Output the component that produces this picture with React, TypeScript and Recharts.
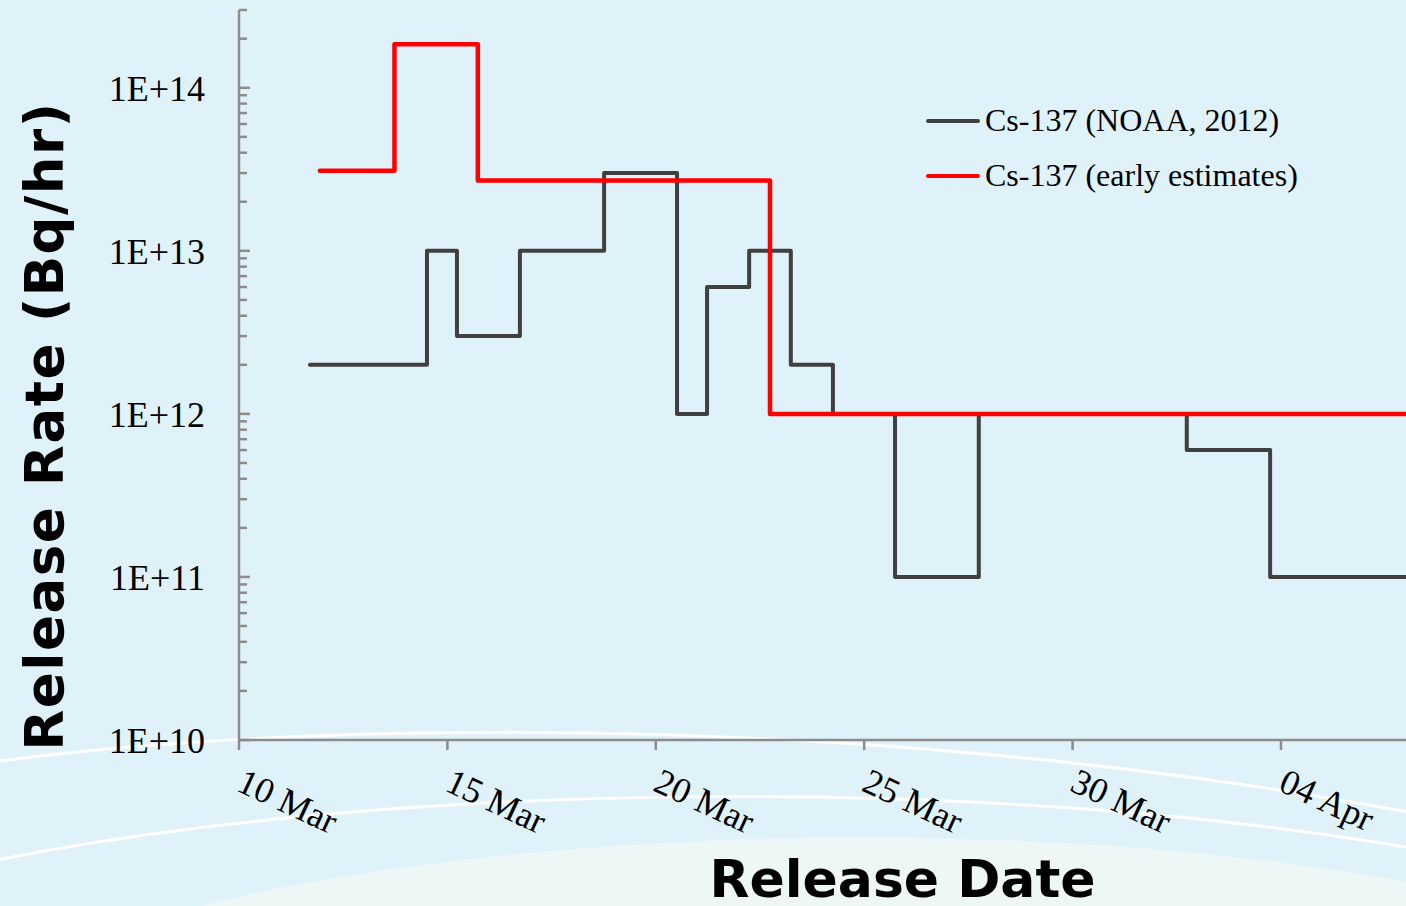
import { LineChart, Line, XAxis, YAxis, Legend, Label } from "recharts";

// days counted from 10 Mar
const dayTicks = [0, 5, 10, 15, 20, 25];
const dayLabels = ["10 Mar", "15 Mar", "20 Mar", "25 Mar", "30 Mar", "04 Apr"];

const noaaDays = [1.7, 4.51, 5.23, 6.74, 8.76, 10.51, 11.23, 12.24, 13.24, 14.25, 15.74, 17.75, 22.74, 24.74, 28];
const noaaRates = [2e12, 1e13, 3e12, 1e13, 3e13, 1e12, 6e12, 1e13, 2e12, 1e12, 1e11, 1e12, 6e11, 1e11, 1e11];

const earlyDays = [1.94, 3.73, 5.73, 12.74, 28];
const earlyRates = [3.1e13, 1.85e14, 2.7e13, 1e12, 1e12];

const decades = [1e10, 1e11, 1e12, 1e13, 1e14];
const decadeLabels = ["1E+10", "1E+11", "1E+12", "1E+13", "1E+14"];
const minorSteps = [1, 2, 3, 4, 5, 6, 7, 8, 9];
const rateMax = 3e14;

const rateTicks = decades
  .flatMap((d) => minorSteps.map((k) => k * d))
  .filter((v) => v <= rateMax * 1.0001);

const noaa = noaaDays.map((d, i) => ({ day: d, rate: noaaRates[i] }));
const early = earlyDays.map((d, i) => ({ day: d, rate: earlyRates[i] }));

const AXIS = "#8c8c8c";
const SERIF = "'Liberation Serif', 'Times New Roman', serif";
const SANS = "'DejaVu Sans', Verdana, sans-serif";

const RateTick = ({ x, y, payload }: any) => {
  const idx = decades.findIndex((d) => Math.abs(d - payload.value) / d < 1e-6);
  const major = idx >= 0;
  return (
    <g>
      <line x1={x} x2={x + (major ? 11 : 8)} y1={y} y2={y} stroke={AXIS} strokeWidth={2.5} />
      {major && (
        <text x={x - 34} y={y + 13} textAnchor="end" fontFamily={SERIF} fontSize={36} fill="#000">
          {decadeLabels[idx]}
        </text>
      )}
    </g>
  );
};

const DayTick = ({ x, y, payload }: any) => {
  const i = dayTicks.indexOf(payload.value);
  return (
    <text
      x={x - 4}
      y={y + 40}
      transform={`rotate(25, ${x - 4}, ${y + 40})`}
      textAnchor="start"
      fontFamily={SERIF}
      fontSize={36}
      fill="#000"
    >
      {dayLabels[i]}
    </text>
  );
};

const LegendBox = ({ payload }: any) => (
  <div style={{ fontFamily: SERIF, fontSize: 32, color: "#000" }}>
    {(payload || []).map((p: any) => (
      <div key={p.value} style={{ display: "flex", alignItems: "center", height: 55 }}>
        <div style={{ width: 54, height: 4, background: p.color, borderRadius: 2, marginRight: 5 }} />
        <span style={{ whiteSpace: "nowrap" }}>{p.value}</span>
      </div>
    ))}
  </div>
);

export default function App() {
  return (
    <div style={{ position: "fixed", left: 0, top: 0, width: 1406, height: 906, background: "#e0f2f9", overflow: "hidden" }}>
      <svg width={1406} height={906} style={{ position: "absolute", left: 0, top: 0 }}>
        <path d="M 200 906 C 450 840, 1000 800, 1450 890 L 1450 906 Z" fill="#edf7f6" />
        <path d="M -50 768 C 300 715, 900 712, 1450 820" fill="none" stroke="#ffffff" strokeWidth={3} />
        <path d="M -50 870 C 350 780, 1000 770, 1450 855" fill="none" stroke="#ffffff" strokeWidth={3} />
      </svg>
      <div style={{ position: "absolute", left: 0, top: 0 }}>
        <LineChart width={1406} height={906} margin={{ top: 10, right: 0, bottom: 0, left: 119 }}>
          <XAxis
            type="number"
            dataKey="day"
            domain={[0, 28]}
            ticks={dayTicks}
            interval={0}
            allowDataOverflow
            height={166}
            tickSize={10}
            tickMargin={0}
            axisLine={{ stroke: AXIS, strokeWidth: 2.5 }}
            tickLine={{ stroke: AXIS, strokeWidth: 2.5 }}
            tick={<DayTick />}
          >
            <Label
              content={({ viewBox }: any) => (
                <text
                  x={viewBox.x + viewBox.width / 2 + 80}
                  y={viewBox.y + 157}
                  textAnchor="middle"
                  fontFamily={SANS}
                  fontWeight="bold"
                  fontSize={52}
                  fill="#000"
                >
                  Release Date
                </text>
              )}
            />
          </XAxis>
          <YAxis
            type="number"
            scale="log"
            domain={[1e10, rateMax]}
            ticks={rateTicks}
            interval={0}
            allowDataOverflow
            width={120}
            tickSize={0}
            tickMargin={0}
            axisLine={{ stroke: AXIS, strokeWidth: 2.5 }}
            tickLine={false}
            tick={<RateTick />}
          >
            <Label
              content={({ viewBox }: any) => {
                const cx = 63;
                const cy = viewBox.y + viewBox.height / 2 + 51;
                return (
                  <text
                    x={cx}
                    y={cy}
                    transform={`rotate(-90, ${cx}, ${cy})`}
                    textAnchor="middle"
                    fontFamily={SANS}
                    fontWeight="bold"
                    fontSize={53}
                    letterSpacing={1.5}
                    fill="#000"
                  >
                    Release Rate (Bq/hr)
                  </text>
                );
              }}
            />
          </YAxis>
          <Legend
            layout="horizontal"
            verticalAlign="middle"
            align="center"
            wrapperStyle={{ position: "absolute", left: 926, top: 93, width: 420 }}
            content={<LegendBox />}
          />
          <Line
            data={noaa}
            dataKey="rate"
            name="Cs-137 (NOAA, 2012)"
            type="stepAfter"
            stroke="#404040"
            strokeWidth={4}
            strokeLinecap="round"
            strokeLinejoin="round"
            dot={false}
            activeDot={false}
            isAnimationActive={false}
          />
          <Line
            data={early}
            dataKey="rate"
            name="Cs-137 (early estimates)"
            type="stepAfter"
            stroke="#ff0000"
            strokeWidth={4.5}
            strokeLinecap="round"
            strokeLinejoin="round"
            dot={false}
            activeDot={false}
            isAnimationActive={false}
          />
        </LineChart>
      </div>
    </div>
  );
}
